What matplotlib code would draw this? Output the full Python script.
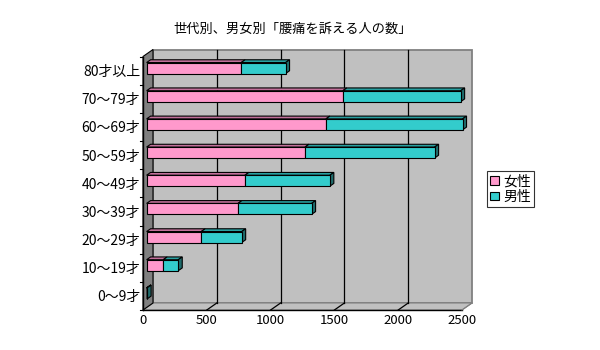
import matplotlib
matplotlib.use("Agg")
import matplotlib.pyplot as plt
from matplotlib.patches import Polygon, Rectangle
from matplotlib.lines import Line2D
from matplotlib.transforms import IdentityTransform, ScaledTranslation

plt.rcParams['font.family'] = ['Noto Sans CJK JP', 'DejaVu Sans']

# Data: number of people reporting low back pain, by age group and sex
categories = ['0～9才', '10～19才', '20～29才', '30～39才', '40～49才',
              '50～59才', '60～69才', '70～79才', '80才以上']
female = [1, 130, 428, 716, 770, 1241, 1405, 1538, 741]
male = [3, 118, 317, 577, 666, 1016, 1071, 923, 348]
series_names = ['女性', '男性']
x_ticks = [0, 500, 1000, 1500, 2000, 2500]
title = '世代別、男女別「腰痛を訴える人の数」'

# Colours
C_FEMALE, C_FEMALE_TOP = '#FF99CC', '#C2709A'
C_MALE, C_MALE_TOP, C_MALE_SIDE = '#33CCCC', '#29A0A0', '#1F6B6B'
C_WALL, C_SIDEWALL, C_BORDER = '#C0C0C0', '#808080', '#808080'

W, H = 600, 350
fig = plt.figure(figsize=(W / 100, H / 100), dpi=100)
fig.patch.set_facecolor('white')

ax_l, ax_r, ax_t, ax_b = 143, 462, 56.5, 310
ax = fig.add_axes([ax_l / W, 1 - ax_b / H, (ax_r - ax_l) / W, (ax_b - ax_t) / H])
ax.set_xlim(0, 2500)
ax.set_ylim(-0.5, len(categories) - 0.5)
ax.patch.set_visible(False)
for s in ax.spines.values():
    s.set_visible(False)

# depth of the 3-D box (pixels, display coordinates: x right, y up)
DX, DY = 10.0, 7.0
D0, D1 = 0.36, 0.76      # bar front / back depth fraction
BAR_H = 0.39             # bar thickness in category units


def P(x, y, d):
    X, Y = ax.transData.transform((x, y))
    return (X + d * DX, Y + d * DY)


def poly(pts, fc, ec, lw=0.8, z=2):
    ax.add_patch(Polygon(pts, closed=True, facecolor=fc, edgecolor=ec,
                         linewidth=lw, transform=IdentityTransform(), zorder=z,
                         clip_on=False))


def line(p, q, color='black', lw=0.9, z=2):
    ax.add_line(Line2D([p[0], q[0]], [p[1], q[1]], color=color, linewidth=lw,
                       transform=IdentityTransform(), zorder=z, clip_on=False))


y0, y1 = -0.5, len(categories) - 0.5
xmax = x_ticks[-1]

# walls and floor
poly([P(0, y0, 1), P(xmax, y0, 1), P(xmax, y1, 1), P(0, y1, 1)], C_WALL, C_BORDER, lw=1.3, z=1)
poly([P(0, y0, 0), P(xmax, y0, 0), P(xmax, y0, 1), P(0, y0, 1)], C_WALL, C_BORDER, lw=0.8, z=1.1)
poly([P(0, y0, 0), P(0, y0, 1), P(0, y1, 1), P(0, y1, 0)], C_SIDEWALL, 'black', lw=0.8, z=1.2)

# gridlines on back wall and floor
for v in x_ticks[1:-1]:
    line(P(v, y0, 1), P(v, y1, 1), z=1.5)
    line(P(v, y0, 0), P(v, y0, 1), z=1.5)

# axis lines
line(P(0, y0, 0), P(xmax, y0, 0), lw=1.0, z=1.6)
line(P(0, y0, 0), P(0, y1, 0), lw=1.0, z=1.6)
line(P(xmax, y0, 0), P(xmax, y0, 1), color=C_BORDER, lw=0.8, z=1.6)

# category tick marks between groups
for k in range(len(categories) + 1):
    yk = k - 0.5
    a = P(0, yk, 0)
    line((a[0] - 3, a[1]), a, lw=0.8, z=1.7)

# bars: front faces through barh, top and end faces as projected polygons
front = ax.transData + ScaledTranslation(D0 * DX / 100, D0 * DY / 100, fig.dpi_scale_trans)
ypos = list(range(len(categories)))
b1 = ax.barh(ypos, female, height=BAR_H, color=C_FEMALE, edgecolor='black',
             linewidth=0.8, zorder=4)
b2 = ax.barh(ypos, male, left=female, height=BAR_H, color=C_MALE, edgecolor='black',
             linewidth=0.8, zorder=4)
for r in list(b1) + list(b2):
    r.set_transform(front)
    r.set_clip_on(False)

for i, (f, m) in enumerate(zip(female, male)):
    yt = i + BAR_H / 2
    yb = i - BAR_H / 2
    tot = f + m
    poly([P(0, yt, D0), P(f, yt, D0), P(f, yt, D1), P(0, yt, D1)], C_FEMALE_TOP, 'black', z=3)
    poly([P(f, yt, D0), P(tot, yt, D0), P(tot, yt, D1), P(f, yt, D1)], C_MALE_TOP, 'black', z=3)
    poly([P(tot, yb, D0), P(tot, yt, D0), P(tot, yt, D1), P(tot, yb, D1)], C_MALE_SIDE, 'black', z=3)

# tick labels
ax.set_yticks(ypos)
ax.set_yticklabels(categories, fontsize=10)
ax.set_xticks(x_ticks)
ax.set_xticklabels([str(v) for v in x_ticks], fontsize=9.5)
ax.tick_params(axis='y', length=0, pad=2)
ax.tick_params(axis='x', length=0, pad=3)

# title
fig.text(293 / W, 1 - 29 / H, title, ha='center', va='center', fontsize=9.5)

# legend
handles = [Rectangle((0, 0), 1, 1, facecolor=C_FEMALE, edgecolor='black', linewidth=0.8),
           Rectangle((0, 0), 1, 1, facecolor=C_MALE, edgecolor='black', linewidth=0.8)]
leg = fig.legend(handles, series_names, loc='upper left',
                 bbox_to_anchor=(487 / W, 1 - 171 / H), fontsize=10,
                 frameon=True, fancybox=False, handlelength=0.6, handleheight=0.6,
                 handletextpad=0.3, borderpad=0.25, labelspacing=0.1,
                 borderaxespad=0)
leg.get_frame().set_edgecolor('black')
leg.get_frame().set_linewidth(0.8)

fig.savefig('out.png', dpi=100, facecolor='white')
